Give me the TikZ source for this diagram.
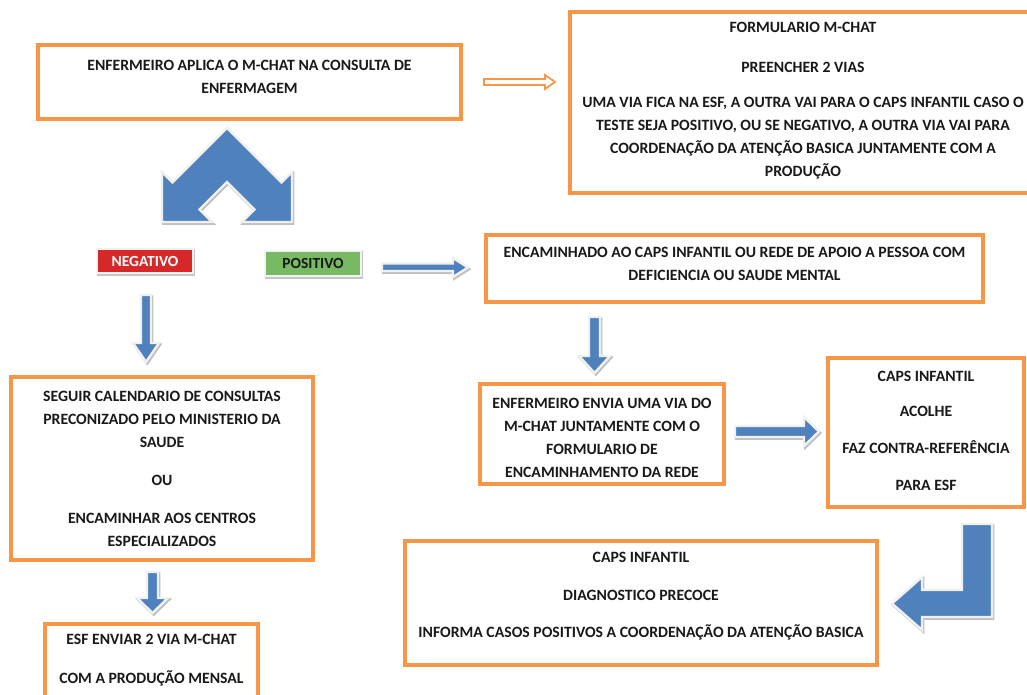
\documentclass[tikz,border=0pt]{standalone}
\usepackage{fontspec}
\setmainfont{Carlito}
\definecolor{orangeC}{RGB}{247,150,70}
\definecolor{blueC}{RGB}{79,129,189}
\definecolor{redC}{RGB}{214,40,40}
\definecolor{greenC}{RGB}{120,186,100}
\definecolor{txtC}{RGB}{25,25,25}
\begin{document}
\begin{tikzpicture}[x=0.75pt,y=-0.75pt,
  box/.style={draw=orangeC, line width=2.6pt, fill=white, rectangle, inner sep=0pt},
  txt/.style={align=center, font=\fontsize{11.8}{17.4}\selectfont\bfseries, text=txtC, inner sep=0pt},
  tag/.style={rectangle, inner sep=0pt, draw=gray!10, line width=1.8pt,
    font=\fontsize{11.6}{12}\selectfont\bfseries,
    preaction={fill=gray!45, draw=gray!45, line width=1.8pt, transform canvas={xshift=0.8pt,yshift=-1.2pt}}},
  blockarrow/.style={fill=blueC, draw=gray!12, line width=1.8pt, line join=miter,
    preaction={fill=gray!50, draw=gray!50, line width=1.8pt, transform canvas={xshift=0.9pt,yshift=-1.2pt}}},
  hollowarrow/.style={fill=white, draw=orangeC, line width=1.3pt, line join=miter}
]
\path[use as bounding box] (0,0) rectangle (1027,695);
\clip (0,0) rectangle (1027,695);

% boxes
\node[box, minimum width=317.25pt, minimum height=55.5pt] (b1) at (249.5,82) {};
\node[box, minimum width=349.5pt, minimum height=135.75pt] (b2) at (803,102.5) {};
\node[box, minimum width=372.75pt, minimum height=50.25pt] (b3) at (734.5,268.5) {};
\node[box, minimum width=226.5pt, minimum height=137.25pt] (b4) at (162,468.5) {};
\node[box, minimum width=183pt, minimum height=75pt] (b5) at (602,434) {};
\node[box, minimum width=147pt, minimum height=111.75pt] (b6) at (926,432.5) {};
\node[box, minimum width=354pt, minimum height=93pt] (b7) at (641,603) {};
\node[box, minimum width=159.75pt, minimum height=58.5pt] (b8) at (151.5,663) {};

% texts
\node[txt] (t1) at (249.5,76.5) {ENFERMEIRO APLICA O M-CHAT NA CONSULTA DE\\ENFERMAGEM};
\node[txt] (t2) at (803,100.5) {FORMULARIO M-CHAT\\[12.6pt]PREENCHER 2 VIAS\\[8.9pt]UMA VIA FICA NA ESF, A OUTRA VAI PARA O CAPS INFANTIL CASO O\\TESTE SEJA POSITIVO, OU SE NEGATIVO, A OUTRA VIA VAI PARA\\COORDENAÇÃO DA ATENÇÃO BASICA JUNTAMENTE COM A\\PRODUÇÃO};
\node[txt] (t3) at (734.5,263.5) {ENCAMINHADO AO CAPS INFANTIL OU REDE DE APOIO A PESSOA COM\\DEFICIENCIA OU SAUDE MENTAL};
\node[txt] (t4) at (162,469) {SEGUIR CALENDARIO DE CONSULTAS\\PRECONIZADO PELO MINISTERIO DA\\SAUDE\\[11.1pt]OU\\[11.1pt]ENCAMINHAR AOS CENTROS\\ESPECIALIZADOS};
\node[txt] (t5) at (602,438) {ENFERMEIRO ENVIA UMA VIA DO\\M-CHAT JUNTAMENTE COM O\\FORMULARIO DE\\ENCAMINHAMENTO DA REDE};
\node[txt] (t6) at (926,430.5) {CAPS INFANTIL\\[9pt]ACOLHE\\[10.3pt]FAZ CONTRA-REFERÊNCIA\\[10.3pt]PARA ESF};
\node[txt] (t7) at (641,596) {CAPS INFANTIL\\[11.6pt]DIAGNOSTICO PRECOCE\\[10.3pt]INFORMA CASOS POSITIVOS A COORDENAÇÃO DA ATENÇÃO BASICA};
\node[txt] (t8) at (151.5,660.5) {ESF ENVIAR 2 VIA M-CHAT\\[11.9pt]COM A PRODUÇÃO MENSAL};

% tags
\node[tag, fill=redC, text=white, minimum width=72pt, minimum height=18pt] (neg) at (145,261) {NEGATIVO};
\node[tag, fill=greenC, text=txtC, minimum width=72pt, minimum height=18.75pt] (pos) at (313,263.5) {POSITIVO};

% hollow arrow b1 -> b2
\path[hollowarrow] (484,79) -- (545,79) -- (545,75) -- (555,82) -- (545,89) -- (545,85) -- (484,85) -- cycle;

% chevron double arrow
\path[blockarrow] (227,128) -- (172.5,182.5) -- (162,172) -- (162,222) -- (212,222) -- (199.5,209.5)
  -- (227,182) -- (254.5,209.5) -- (242,222) -- (292,222) -- (292,172) -- (281.5,182.5) -- cycle;

% positivo -> b3
\path[blockarrow] (382,263.5) -- (453,263.5) -- (453,258) -- (468,267.5) -- (453,277) -- (453,271) -- (382,271) -- cycle;

% negativo -> b4
\path[blockarrow] (141,295) -- (151,295) -- (151,343) -- (159,343) -- (146,362) -- (133,343) -- (141,343) -- cycle;

% b3 -> b5
\path[blockarrow] (589,317) -- (600,317) -- (600,356) -- (610,356) -- (594.5,373) -- (579,356) -- (589,356) -- cycle;

% b4 -> b8
\path[blockarrow] (147,572) -- (158,572) -- (158,598) -- (168,598) -- (152.5,613) -- (137,598) -- (147,598) -- cycle;

% b5 -> b6
\path[blockarrow] (735,426) -- (804,426) -- (804,417) -- (819,431.5) -- (804,446) -- (804,437) -- (735,437) -- cycle;

% b6 -> b7 bent arrow
\path[blockarrow] (992,524) -- (992,617) -- (922,617) -- (922,630) -- (892,603.5) -- (922,577) -- (922,590) -- (962,590) -- (962,524) -- cycle;
\end{tikzpicture}
\end{document}
